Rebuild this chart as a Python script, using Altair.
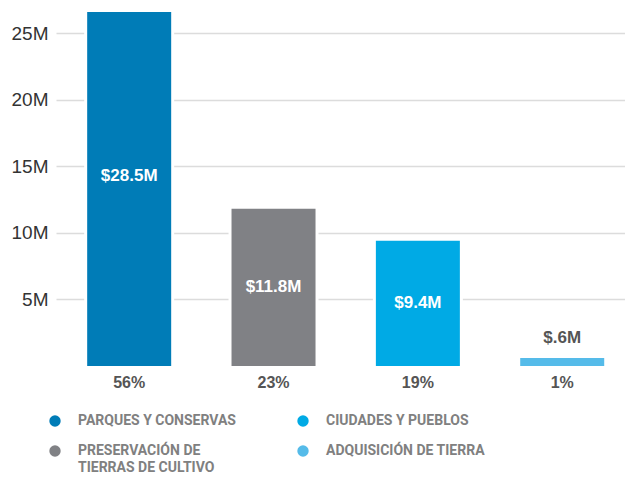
import altair as alt
import pandas as pd

categories = ["PARQUES Y CONSERVAS", "PRESERVACIÓN DE TIERRAS DE CULTIVO",
              "CIUDADES Y PUEBLOS", "ADQUISICIÓN DE TIERRA"]
values_m = [28.5, 11.8, 9.4, 0.6]
value_labels = ["$28.5M", "$11.8M", "$9.4M", "$.6M"]
pct_labels = ["56%", "23%", "19%", "1%"]
colors = ["#007cb7", "#808185", "#00aae5", "#55bbe9"]
y_ticks = [5, 10, 15, 20, 25]
y_max = 26.58

df = pd.DataFrame({"cat": categories, "value": values_m,
                   "vlabel": value_labels, "pct": pct_labels})

x = alt.X("cat:N", sort=categories, axis=None,
          scale=alt.Scale(paddingInner=0.418, paddingOuter=0.18, align=0.6))
y = alt.Y("value:Q", scale=alt.Scale(domain=[0, y_max], nice=False, zero=True),
          axis=alt.Axis(values=y_ticks, labelExpr="datum.value + 'M'", title=None,
                        domain=False, ticks=False, grid=True, gridColor="#dcdcdc",
                        gridWidth=1.5, labelFontSize=19, labelColor="#333333",
                        labelFont="Liberation Sans", labelPadding=8))

base = alt.Chart(df)

label_expr = ("datum.label == 'PRESERVACIÓN DE TIERRAS DE CULTIVO' ? "
              "['PRESERVACIÓN DE', 'TIERRAS DE CULTIVO'] : "
              "(datum.label == 'ADQUISICIÓN DE TIERRA' ? [datum.label, ''] : datum.label)")

backing = base.mark_bar(size=90, color="white", clip=True).encode(x=x, y=y)
bars = base.mark_bar(size=84, clip=True).encode(
    x=x, y=y,
    color=alt.Color("cat:N", scale=alt.Scale(domain=categories, range=colors),
                    legend=alt.Legend(
                        title=None, orient="none", legendX=-8, legendY=402,
                        direction="vertical",
                        columns=2, columnPadding=60, rowPadding=16,
                        symbolType="circle", symbolSize=130, symbolStrokeWidth=0,
                        labelFont="Roboto", labelFontSize=14,
                        labelFontWeight="bold", labelColor="#808080",
                        labelOffset=16, labelLimit=300,
                        labelExpr=label_expr)))

inner = base.transform_filter("datum.value > 2").transform_calculate(
    mid="datum.value / 2").mark_text(
    color="white", font="Liberation Sans", fontWeight="bold", fontSize=17,
    baseline="middle").encode(x=x, y=alt.Y("mid:Q"), text="vlabel:N")

above = base.transform_filter("datum.value <= 2").mark_text(
    color="#555555", font="Liberation Sans", fontWeight="bold", fontSize=17,
    baseline="bottom", dy=-11).encode(x=x, y=alt.Y("value:Q"), text="vlabel:N")

pct = base.mark_text(color="#555555", font="Liberation Sans", fontWeight="bold",
                     fontSize=16, baseline="middle", dy=17).encode(
    x=x, y=alt.datum(0), text="pct:N")

chart = alt.layer(backing, bars, inner, above, pct).properties(
    width=569, height=354,
    padding={"left": 48, "top": 4, "right": 0, "bottom": 112},
    autosize=alt.AutoSizeParams(type="none"),
).configure(
    view=alt.ViewConfig(stroke=None),
    style={"guide-label": {"lineHeight": 17}},
)

chart.save("out.html", embed_options={"renderer": "svg", "actions": False})
